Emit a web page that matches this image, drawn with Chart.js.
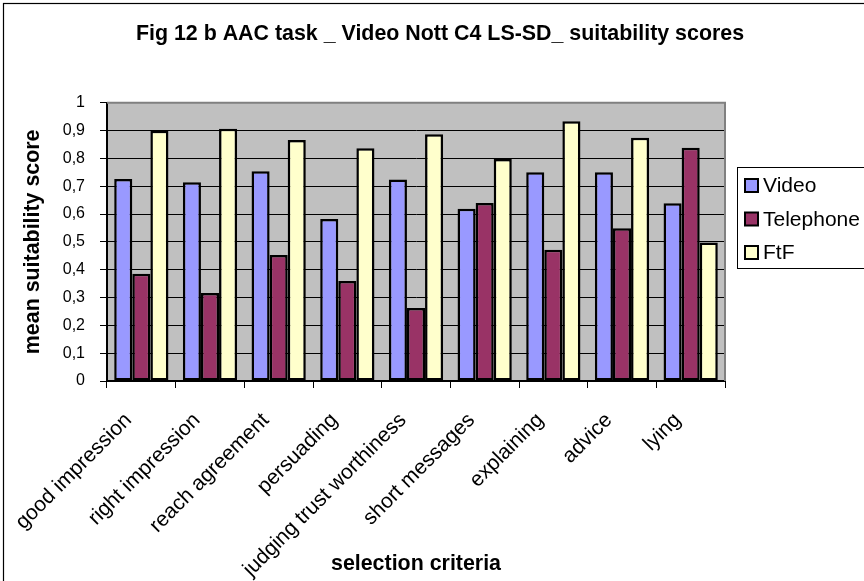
<!DOCTYPE html>
<html>
<head>
<meta charset="utf-8">
<title>Fig 12 b AAC task _ Video Nott C4 LS-SD_ suitability scores</title>
<script src="https://cdn.jsdelivr.net/npm/chart.js@4.4.1/dist/chart.umd.min.js"></script>
<style>
    html, body { margin: 0; padding: 0; background: #fff; }
    #wrap { width: 864px; height: 581px; position: relative; }
</style>
</head>
<body>
<div id="wrap"><canvas id="scoreChart"></canvas></div>
<script>
// ======================================
// Data
// ======================================
const categories = [
    'good impression',
    'right impression',
    'reach agreement',
    'persuading',
    'judging trust worthiness',
    'short messages',
    'explaining',
    'advice',
    'lying'
];

const videoScores = [0.726, 0.714, 0.754, 0.582, 0.724, 0.619, 0.750, 0.750, 0.639];
const telephoneScores = [0.385, 0.316, 0.453, 0.359, 0.262, 0.640, 0.472, 0.549, 0.838];
const ftfScores = [0.899, 0.906, 0.866, 0.836, 0.887, 0.798, 0.933, 0.874, 0.498];

const seriesNames = ['Video', 'Telephone', 'FtF'];
const yTickLabels = ['0', '0,1', '0,2', '0,3', '0,4', '0,5', '0,6', '0,7', '0,8', '0,9', '1'];

const FONT = 'Arial, "Liberation Sans", Helvetica, sans-serif';

// ======================================
// Plugins: plot background, frame, legend box
// ======================================
const plotBackground = {
    id: 'plotBackground',
    beforeDraw(chart) {
        const { ctx, chartArea: a } = chart;
        ctx.save();
        ctx.fillStyle = '#c0c0c0';
        ctx.fillRect(a.left, a.top, a.right - a.left, a.bottom - a.top);
        ctx.restore();
    },
    afterDatasetsDraw(chart) {
        // grey edge on top and right of the plot area
        const { ctx, chartArea: a } = chart;
        ctx.save();
        ctx.strokeStyle = '#808080';
        ctx.lineWidth = 2;
        ctx.beginPath();
        ctx.moveTo(a.left, a.top);
        ctx.lineTo(a.right, a.top);
        ctx.lineTo(a.right, a.bottom);
        ctx.stroke();
        ctx.restore();
    }
};

const outerFrame = {
    id: 'outerFrame',
    afterDraw(chart) {
        const { ctx } = chart;
        ctx.save();
        ctx.strokeStyle = '#000';
        ctx.lineWidth = 1.2;
        ctx.strokeRect(3.5, 3.5, chart.width + 20, chart.height + 20);
        ctx.restore();
    }
};

const boxedLegend = {
    id: 'boxedLegend',
    afterDraw(chart) {
        const { ctx } = chart;
        const x = 737.5, y = 167.5, w = 160, h = 101;
        ctx.save();
        ctx.fillStyle = '#fff';
        ctx.fillRect(x, y, w, h);
        ctx.strokeStyle = '#000';
        ctx.lineWidth = 1;
        ctx.strokeRect(x, y, w, h);

        ctx.font = '21px ' + FONT;
        ctx.textBaseline = 'middle';
        ctx.textAlign = 'left';
        chart.data.datasets.forEach((ds, i) => {
            const cy = 185.5 + i * 33.5;
            ctx.fillStyle = ds.backgroundColor;
            ctx.fillRect(745, cy - 6.5, 13, 13);
            ctx.strokeStyle = '#000';
            ctx.lineWidth = 2;
            ctx.strokeRect(745, cy - 6.5, 13, 13);
            ctx.fillStyle = '#000';
            ctx.fillText(ds.label, 763, cy + 1);
        });
        ctx.restore();
    }
};

// ======================================
// Grouped Bar Chart
// ======================================
function createScoreChart() {
    const ctx = document.getElementById('scoreChart');
    if (!ctx) return;

    const barStyle = {
        borderColor: '#000',
        borderWidth: 2.5,
        borderSkipped: false,
        barPercentage: 1.0,
        categoryPercentage: 0.79
    };

    new Chart(ctx, {
        type: 'bar',
        data: {
            labels: categories,
            datasets: [
                Object.assign({ label: seriesNames[0], data: videoScores, backgroundColor: '#9999ff' }, barStyle),
                Object.assign({ label: seriesNames[1], data: telephoneScores, backgroundColor: '#993366' }, barStyle),
                Object.assign({ label: seriesNames[2], data: ftfScores, backgroundColor: '#ffffcc' }, barStyle)
            ]
        },
        options: {
            responsive: true,
            maintainAspectRatio: false,
            animation: false,
            layout: {
                padding: { left: 16, right: 0, top: 0, bottom: 0 }
            },
            plugins: {
                legend: { display: false },
                tooltip: { enabled: false },
                title: {
                    display: true,
                    text: 'Fig 12 b AAC task _ Video Nott C4 LS-SD_ suitability scores',
                    color: '#000',
                    font: { family: FONT, size: 21.4, weight: 'bold', lineHeight: 1.2 },
                    padding: { top: 21, bottom: 56 }
                }
            },
            scales: {
                x: {
                    offset: true,
                    afterFit: scale => { scale.height = 200; },
                    grid: {
                        offset: true,
                        drawOnChartArea: false,
                        drawTicks: true,
                        tickLength: 7,
                        color: '#000',
                        lineWidth: 1
                    },
                    border: { display: true, color: '#000', width: 2 },
                    ticks: {
                        color: '#000',
                        autoSkip: false,
                        minRotation: 45,
                        maxRotation: 45,
                        padding: 20,
                        labelOffset: -13,
                        font: { family: FONT, size: 21 }
                    },
                    title: {
                        display: true,
                        text: 'selection criteria',
                        color: '#000',
                        font: { family: FONT, size: 21.4, weight: 'bold', lineHeight: 1.2 },
                        padding: { top: 4, bottom: 4 }
                    }
                },
                y: {
                    min: 0,
                    max: 1,
                    afterFit: scale => { scale.width = 91; },
                    grid: {
                        color: '#000',
                        lineWidth: 1,
                        drawTicks: true,
                        tickLength: 7
                    },
                    border: { display: true, color: '#000', width: 2 },
                    ticks: {
                        stepSize: 0.1,
                        color: '#000',
                        padding: 15,
                        font: { family: FONT, size: 16 },
                        callback: value => yTickLabels[Math.round(value * 10)]
                    },
                    title: {
                        display: true,
                        text: 'mean suitability score',
                        color: '#000',
                        font: { family: FONT, size: 21.4, weight: 'bold', lineHeight: 1.2 },
                        padding: { top: 4, bottom: 4 }
                    }
                },
                // empty right-hand scale that reserves room for the legend
                side: {
                    type: 'linear',
                    position: 'right',
                    display: true,
                    afterFit: scale => { scale.width = 139; },
                    grid: { display: false },
                    border: { display: false },
                    ticks: { display: false }
                }
            }
        },
        plugins: [plotBackground, boxedLegend, outerFrame]
    });
}

document.addEventListener('DOMContentLoaded', createScoreChart);
</script>
</body>
</html>
